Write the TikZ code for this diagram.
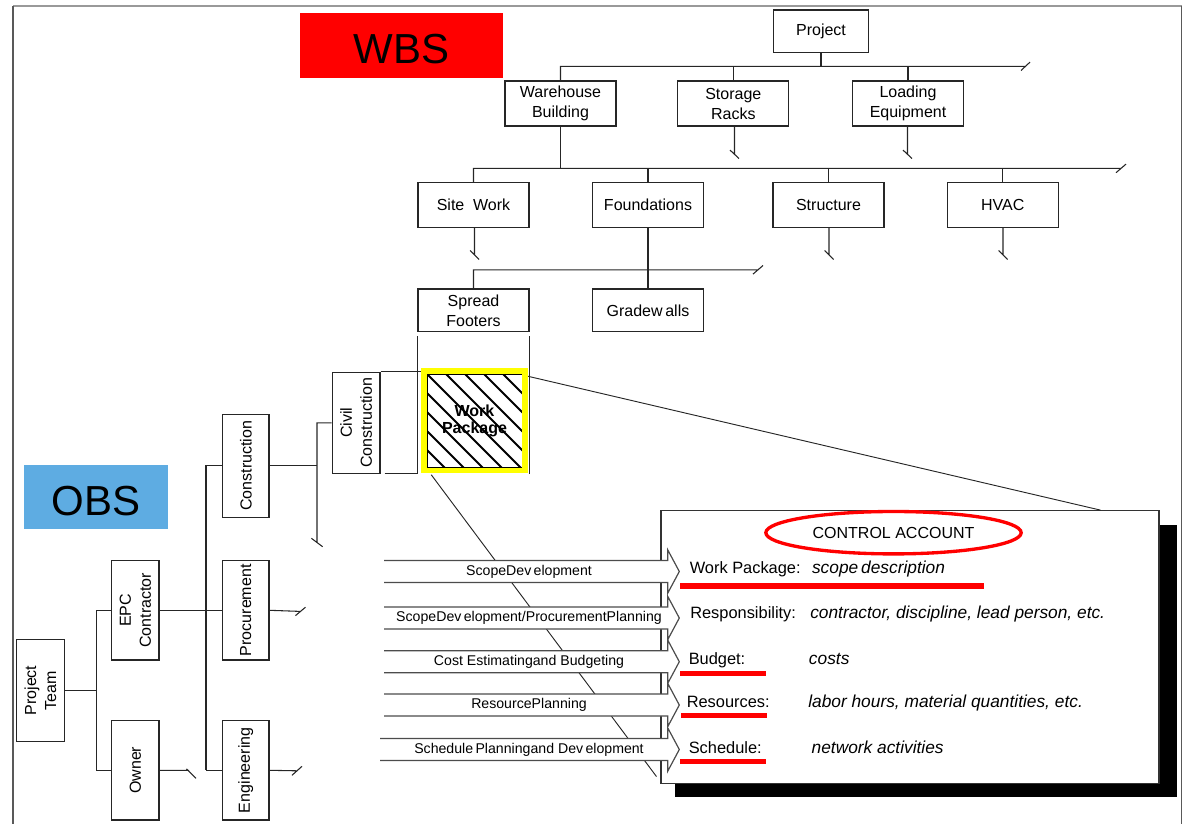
\documentclass[tikz,border=0pt]{standalone}
\usepackage{fontspec}
\setmainfont{Liberation Sans}
\usetikzlibrary{shapes.geometric}
\definecolor{obsblue}{RGB}{94,172,226}
\definecolor{wbsred}{RGB}{255,0,0}
\definecolor{wpyellow}{RGB}{255,255,0}

% open-ended block arrow: #1 = centre y, #2 = label name, #3 = label text, #4 = left end x
\newcommand\blockarrow[4]{%
  \path[fill=white] (#4,#1-11) -- (667.7,#1-11) -- (667.7,#1-21.7) -- (679.3,#1)
     -- (667.7,#1+21.7) -- (667.7,#1+11) -- (#4,#1+11) -- cycle;
  \draw[arrowline] (#4,#1-11) -- (667.7,#1-11) -- (667.7,#1-21.7) -- (679.3,#1)
     -- (667.7,#1+21.7) -- (667.7,#1+11) -- (#4,#1+11);
  \node[arrowlbl] (#2) at (529,#1) {#3};
}

\begin{document}
\begin{tikzpicture}[x=0.75pt,y=-0.75pt,
  box/.style={draw=black!85, line width=0.9pt, fill=white, align=center, inner sep=0pt,
    font=\fontsize{12}{15}\selectfont, minimum width=83.25pt, minimum height=33.75pt},
  vbox/.style={box, rotate=90, minimum width=74.5pt, minimum height=35.5pt},
  conn/.style={draw=black!85, line width=0.8pt},
  arrowline/.style={draw=black!70, line width=0.9pt},
  arrowlbl/.style={font=\fontsize{10.6}{12}\selectfont, inner sep=0pt},
  catext/.style={font=\fontsize{12.3}{14}\selectfont, anchor=mid west, inner sep=0pt},
  caval/.style={catext, font=\fontsize{13}{15}\selectfont\itshape},
  title/.style={inner sep=0pt, text height=28pt, text depth=0pt,
    font=\fontsize{31.5}{36}\selectfont},
]
\useasboundingbox (0,0) rectangle (1184,824);

% page frame
\draw[black!40, line width=1.5pt] (13,6) -- (1181.5,6);
\draw[black!65, line width=1.1pt] (13,6) -- (13,824);
\draw[black!65, line width=1.1pt] (1181.5,6) -- (1181.5,824);

% titles
\node[title, fill=wbsred, minimum width=152.3pt, minimum height=48.5pt] (wbs) at (401.8,45.3) {WBS};
\node[title, fill=obsblue, minimum width=107.8pt, minimum height=48.2pt] (obs) at (95.8,497.2) {OBS};

% ---------- work breakdown structure ----------
\node[box, minimum width=71.7pt, minimum height=32pt] (proj) at (821,31.3) {Project};
\node[box] (wh) at (560.5,103.5) {Warehouse\\Building};
\node[box] (sr) at (733.3,103.5) {Storage\\Racks};
\node[box] (le) at (908,103.5) {Loading\\Equipment};
\node[box, minimum height=33.5pt] (sw) at (473.5,205) {Site\hspace{0.55em}Work};
\node[box, minimum height=33.5pt] (fd) at (648,205) {Foundations};
\node[box, minimum height=33.5pt] (st) at (828.5,205) {Structure};
\node[box, minimum height=33.5pt] (hv) at (1002.8,205) {HVAC};
\node[box, minimum height=32pt] (sf) at (473.5,310.3) {Spread\\Footers};
\node[box, minimum height=32pt] (gw) at (648,310.3) {Gradew\,alls};

% level 1 bus
\coordinate (b1) at (1025.5,66.3);
\draw[conn] (proj.south) -- (proj.south |- b1);
\draw[conn] (wh.north) |- (b1) ++(-4.5,4.2) -- ++(9,-8.4);
\draw[conn] (sr.north) -- (sr.north |- b1);
\draw[conn] (le.north) -- (le.north |- b1);
\coordinate (srEnd) at (734.5,154.3);
\coordinate (leEnd) at (907.5,154.3);
\draw[conn] (sr.south -| srEnd) -- (srEnd) ++(-4.5,-4.2) -- ++(9,8.4);
\draw[conn] (le.south -| leEnd) -- (leEnd) ++(-4.5,-4.2) -- ++(9,8.4);

% level 2 bus
\coordinate (b2) at (1121,168.4);
\draw[conn] (wh.south) -- (wh.south |- b2);
\draw[conn] (sw.north) |- (b2) ++(-5,4.3) -- ++(10,-8.6);
\draw[conn] (fd.north) -- (fd.north |- b2);
\draw[conn] (st.north) -- (st.north |- b2);
\draw[conn] (hv.north) -- (hv.north |- b2);
\coordinate (swEnd) at (474.5,255);
\coordinate (stEnd) at (829,255);
\coordinate (hvEnd) at (1003,255);
\draw[conn] (sw.south -| swEnd) -- (swEnd) ++(-4.5,-4.5) -- ++(9,9);
\draw[conn] (st.south -| stEnd) -- (stEnd) ++(-4.5,-4.5) -- ++(9,9);
\draw[conn] (hv.south -| hvEnd) -- (hvEnd) ++(-4.5,-4.5) -- ++(9,9);

% level 3 bus
\coordinate (b3) at (758,269.8);
\draw[conn] (fd.south) -- (gw.north);
\draw[conn] (sf.north) |- (b3) ++(-5,4.3) -- ++(10,-8.6);

% ---------- organisational breakdown structure ----------
\node[vbox, minimum width=76.8pt, minimum height=35.7pt] (pt) at (40.5,690.5) {Project\\Team};
\node[vbox] (epc) at (135.3,610.3) {EPC\\Contractor};
\node[vbox] (own) at (135.3,770.3) {Owner};
\node[vbox, minimum width=77.25pt, minimum height=34.7pt] (con) at (245.8,465.8) {Construction};
\node[vbox, minimum height=34.7pt] (pro) at (245.8,610.3) {Procurement};
\node[vbox, minimum height=34.7pt] (eng) at (245.8,770.3) {Engineering};
\node[vbox, minimum width=75.75pt, minimum height=35.8pt] (civ) at (356.2,422.8) {Civil\\Construction};

\coordinate (ob1) at (96.7,690.5);
\draw[conn] (pt.south) -- (ob1);
\draw[conn] (epc.north) -| (ob1);
\draw[conn] (own.north) -| (ob1);
\draw[conn] (epc.south) -- (pro.north);

\coordinate (ob2) at (206,770.3);
\draw[conn] (con.north) -| (ob2);
\draw[conn] (eng.north) -- (ob2);

\coordinate (ob3) at (317,542.5);
\draw[conn] (civ.north) -| (ob3) ++(-5.6,-4.2) -- ++(11.2,8.4);
\draw[conn] (con.south) -- (con.south -| ob3);

\coordinate (ownEnd) at (189,770.3);
\coordinate (proEnd) at (300.5,611.4);
\coordinate (engEnd) at (297,770.8);
\draw[conn] (own.south) -- (ownEnd) ++(-2.5,-1.5) -- ++(9.5,9.5);
\draw[conn] (pro.south) -- (proEnd) ++(-5,4.2) -- ++(10,-8.4);
\draw[conn] (eng.south) -- (engEnd) ++(-5,4.5) -- ++(10,-9);

% ---------- work package at the WBS / OBS crossing ----------
\node[draw=black, line width=0.6pt, minimum width=71.25pt, minimum height=70pt, inner sep=0pt,
  align=center, font=\bfseries\fontsize{12}{13}\selectfont,
  path picture={\foreach \k in {-5,...,4}{
      \draw[line width=1.4pt] ([xshift=\k*14.25pt]path picture bounding box.north west) -- ++(95,95);}}]
  (wp) at (474.5,420.7) {Work\\Package};
\draw[wpyellow, line width=4.1pt] ([xshift=-2.06pt,yshift=2.06pt]wp.north west)
  rectangle ([xshift=2.06pt,yshift=-2.06pt]wp.south east);

% grid lines linking Spread Footers and Civil Construction
\draw[conn] ([yshift=-3pt]sf.south west) -- (sf.south west |- civ.west);
\draw[conn] ([yshift=-3pt]sf.south east) -- (sf.south east |- civ.west);
\draw[conn] (civ.south east) -- ([xshift=-4.5pt]wp.west |- civ.south east);
\draw[conn] ([xshift=3pt]civ.south west) -- (sf.south west |- civ.west);

% ---------- control account ----------
\fill[black] (674.5,525) rectangle (1176.5,797);
\node[draw=black!80, line width=0.8pt, fill=white, minimum width=373.5pt, minimum height=204.5pt,
  inner sep=0pt] (cabox) at (910,647) {};

% expansion lines from the work package
\draw[conn, line width=0.7pt] ([xshift=4.3pt,yshift=-2pt]wp.north east) -- ([xshift=-44.25pt]cabox.north east);
\draw[conn, line width=0.7pt] ([xshift=3.5pt,yshift=-5.25pt]wp.south west) -- ([xshift=-3pt,yshift=5.5pt]cabox.south west);

% process arrows
\blockarrow{571.5}{a1}{ScopeDev\,elopment}{384}
\blockarrow{618}{a2}{ScopeDev\,elopment/ProcurementPlanning}{384}
\blockarrow{661.7}{a3}{Cost Estimatingand Budgeting}{384}
\blockarrow{705}{a4}{ResourcePlanning}{384}
\blockarrow{749.5}{a5}{Schedule\,Planningand Dev\,elopment}{380}

\node[draw=red, line width=2.5pt, ellipse, minimum width=191.5pt, minimum height=31.8pt, inner sep=0pt,
  font=\fontsize{12}{14}\selectfont] (cahead) at (893.5,532.7) {CONTROL ACCOUNT};

\node[catext] (k1) at (689.5,570) {Work Package:};
\node[caval]  (v1) at (811.8,570) {scope\,description};
\node[catext] (k2) at (690,615) {Responsibility:};
\node[caval]  (v2) at (810,615) {contractor, discipline, lead person, etc.};
\node[catext] (k3) at (688.5,660.7) {Budget:};
\node[caval]  (v3) at (808.7,660.7) {costs};
\node[catext] (k4) at (686.5,704.3) {Resources:};
\node[caval]  (v4) at (808,704.3) {labor hours, material quantities, etc.};
\node[catext] (k5) at (688.5,750) {Schedule:};
\node[caval]  (v5) at (811.4,750) {network activities};

\fill[red] (680,583.3) rectangle (984,588.7);
\fill[red] (680,671) rectangle (766,676.3);
\fill[red] (681,712.7) rectangle (767,718);
\fill[red] (680,759) rectangle (766,764.3);
\end{tikzpicture}
\end{document}
